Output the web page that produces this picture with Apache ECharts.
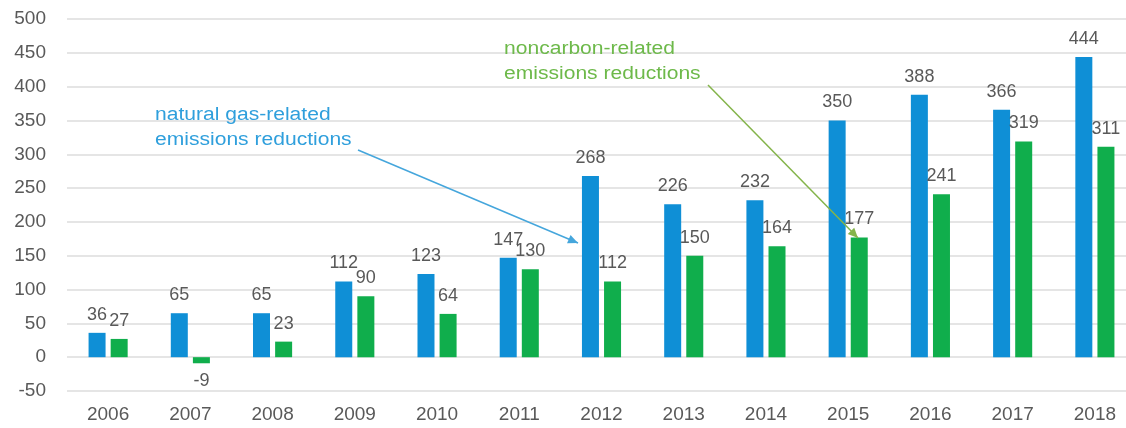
<!DOCTYPE html>
<html>
<head>
<meta charset="utf-8">
<title>Emissions reductions</title>
<script src="https://cdn.jsdelivr.net/npm/echarts@6/dist/echarts.min.js"></script>
<style>
  html, body { margin: 0; padding: 0; background: #ffffff; }
  #chart { width: 1126px; height: 428px; }
</style>
</head>
<body>
<div id="chart"></div>
<script>
// Yearly emissions reductions, two sources
const years = ['2006','2007','2008','2009','2010','2011','2012','2013','2014','2015','2016','2017','2018'];
const naturalGas = [36, 65, 65, 112, 123, 147, 268, 226, 232, 350, 388, 366, 444];
const noncarbon = [27, -9, 23, 90, 64, 130, 112, 150, 164, 177, 241, 319, 311];
const yTicks = { min: -50, max: 500, step: 50 };

const BLUE = '#0f8fd6';
const GREEN = '#10ae4c';
const LABEL_GREY = '#595959';
const FONT = 'Liberation Sans, Arial, sans-serif';

const chart = echarts.init(document.getElementById('chart'), null, { renderer: 'canvas' });

const labelStyle = {
  show: true,
  position: 'top',
  distance: 9,
  color: LABEL_GREY,
  fontSize: 18,
  fontFamily: FONT
};

function withNegativeLabels(values) {
  return values.map(v => v < 0 ? { value: v, label: { position: 'bottom', distance: 9 } } : v);
}

// Arrowhead polygon pointing from (x1,y1) toward (x2,y2)
function arrowHead(x1, y1, x2, y2, len, half) {
  const a = Math.atan2(y2 - y1, x2 - x1);
  const bx = x2 - len * Math.cos(a), by = y2 - len * Math.sin(a);
  const px = -Math.sin(a) * half, py = Math.cos(a) * half;
  return [[x2, y2], [bx + px, by + py], [bx - px, by - py]];
}

const blueArrow = { x1: 358, y1: 150, x2: 578, y2: 243, color: '#45a6dc' };
const greenArrow = { x1: 708, y1: 85, x2: 858, y2: 238, color: '#84b44a' };

function arrowGraphics(ar) {
  return [
    {
      type: 'line',
      shape: { x1: ar.x1, y1: ar.y1, x2: ar.x2, y2: ar.y2 },
      style: { stroke: ar.color, lineWidth: 1.5 },
      z: 100
    },
    {
      type: 'polygon',
      shape: { points: arrowHead(ar.x1, ar.y1, ar.x2, ar.y2, 10, 4.5) },
      style: { fill: ar.color },
      z: 100
    }
  ];
}

function note(text, x, y, color) {
  return {
    type: 'text',
    x: x,
    y: y,
    scaleX: 1.17,
    style: {
      text: text,
      fill: color,
      font: '18px ' + FONT,
      lineHeight: 25,
      verticalAlign: 'top',
      align: 'left'
    },
    z: 100
  };
}

chart.setOption({
  animation: false,
  backgroundColor: '#ffffff',
  grid: { left: 67, width: 1069, top: 19, bottom: 37, containLabel: false, outerBoundsMode: 'none' },
  xAxis: {
    type: 'category',
    data: years,
    axisLine: { show: false },
    axisTick: { show: false },
    axisLabel: { color: LABEL_GREY, fontSize: 19, margin: 14, fontFamily: FONT }
  },
  yAxis: {
    type: 'value',
    min: yTicks.min,
    max: yTicks.max,
    interval: yTicks.step,
    axisLine: { show: false },
    axisTick: { show: false },
    axisLabel: { color: LABEL_GREY, fontSize: 19, margin: 21, fontFamily: FONT },
    splitLine: { lineStyle: { color: '#dcdcdc', width: 1.5 } }
  },
  series: [
    {
      name: 'natural gas-related emissions reductions',
      type: 'bar',
      data: withNegativeLabels(naturalGas),
      barWidth: 17,
      barGap: '30%',
      itemStyle: { color: BLUE },
      label: labelStyle
    },
    {
      name: 'noncarbon-related emissions reductions',
      type: 'bar',
      data: withNegativeLabels(noncarbon),
      barWidth: 17,
      itemStyle: { color: GREEN },
      label: labelStyle
    }
  ],
  graphic: [
    note('natural gas-related\nemissions reductions', 155, 103, '#2f9fdc'),
    note('noncarbon-related\nemissions reductions', 504, 37, '#6db94a'),
    ...arrowGraphics(blueArrow),
    ...arrowGraphics(greenArrow)
  ]
});
</script>
</body>
</html>
